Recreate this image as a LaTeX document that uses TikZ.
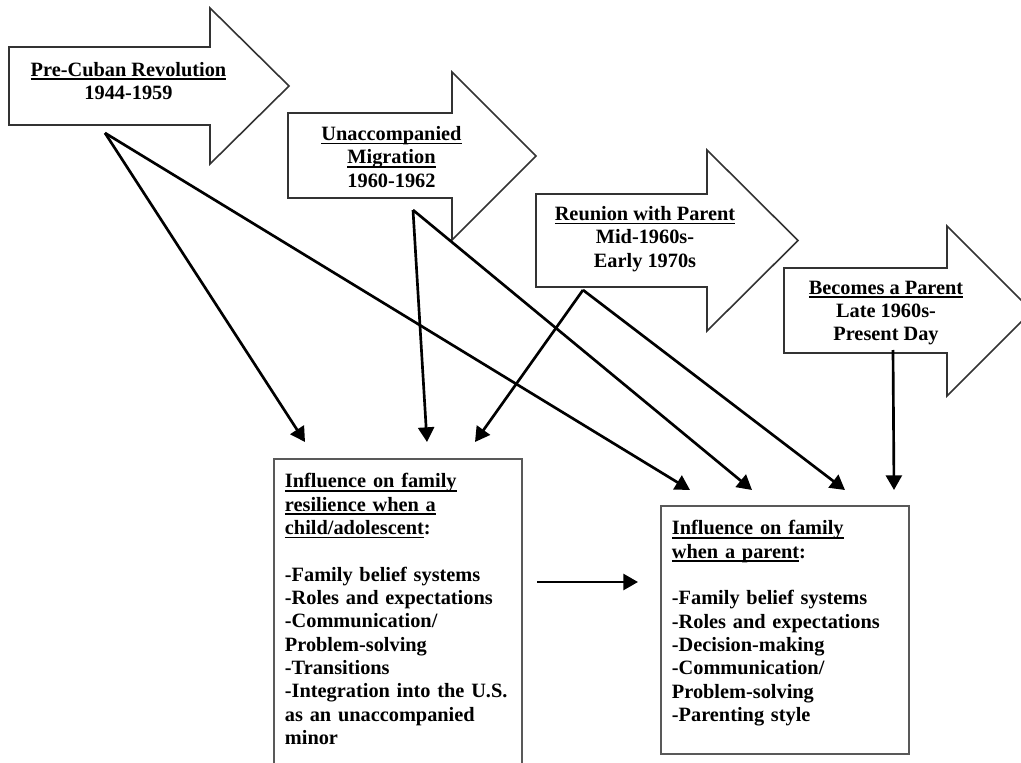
\documentclass[tikz,border=0pt]{standalone}
\usepackage{fontspec}
\usepackage{calc}
\setmainfont{Liberation Serif}
\usetikzlibrary{arrows.meta,positioning,calc}

\newcommand{\hd}[1]{\leavevmode\rlap{\rule[-2.7pt]{\widthof{#1}}{1.1pt}}#1}

\begin{document}
\begin{tikzpicture}[x=0.75pt,y=-0.75pt,>={Triangle[length=11pt,width=12pt]},
  era/.style={draw=black!80,line width=1.2pt,fill=white},
  lbl/.style={font=\fontsize{15.25}{17.5}\selectfont\bfseries,align=center,inner sep=0pt},
  infobox/.style={draw=black!65,line width=1.4pt,anchor=north west,align=left,
    text width=169.5pt,inner xsep=8.25pt,inner ysep=11pt,
    font=\fontsize{15.25}{17.5}\selectfont\bfseries},
  link/.style={->,line width=2pt}]
\useasboundingbox (0,0) rectangle (1021,763);

% the four periods
\draw[era] (9,47)--(210,47)--(210,8)--(289,86)--(210,164)--(210,125)--(9,125)--cycle;
\node[lbl] (precuban) at (128.5,81) {\hd{Pre-Cuban Revolution}\\1944-1959};
\draw[era] (288,113)--(452,113)--(452,72)--(536,156)--(452,240)--(452,198)--(288,198)--cycle;
\node[lbl] (migration) at (391.5,157) {\hd{Unaccompanied}\\\hd{Migration}\\1960-1962};
\draw[era] (536,194)--(707,194)--(707,150)--(798,240.5)--(707,331)--(707,287)--(536,287)--cycle;
\node[lbl] (reunion) at (645,239) {\hd{Reunion with Parent}\\Mid-1960s-\\Early 1970s};
\draw[era] (784,268)--(947,268)--(947,226)--(1032,311)--(947,396)--(947,353)--(784,353)--cycle;
\node[lbl] (becomes) at (886,313) {\hd{Becomes a Parent}\\Late 1960s-\\Present Day};

% influence boxes
\node[infobox] (childbox) at (273,458) {\hd{Influence on family}\\\hd{resilience when a}\\\hd{child/adolescent}:\\ \mbox{}\\
 -Family belief systems\\-Roles and expectations\\-Communication/\\Problem-solving\\-Transitions\\
 \mbox{-Integration into the U.S.}\\as an unaccompanied\\minor\\ \mbox{}};
\node[infobox] (parentbox) at (660,505) {\hd{Influence on family}\\\hd{when a parent}:\\ \mbox{}\\
 -Family belief systems\\-Roles and expectations\\-Decision-making\\-Communication/\\Problem-solving\\
 -Parenting style\\[-4pt]\mbox{}};

\coordinate (s1) at (105,133);
\coordinate (s2) at (413,210);
\coordinate (s3) at (583,290);
\coordinate (s4) at (893,350);
\coordinate (c1) at ($(childbox.north west)+(32,-16)$);
\coordinate (c2) at ($(childbox.north west)+(154,-16)$);
\coordinate (c3) at ($(childbox.north west)+(202,-16)$);
\coordinate (p1) at ($(parentbox.north west)+(30,-15)$);
\coordinate (p2) at ($(parentbox.north west)+(92,-15)$);
\coordinate (p3) at ($(parentbox.north west)+(185,-15)$);
\coordinate (p4) at ($(parentbox.north west)+(234,-15)$);
\coordinate (h1) at (537,582);
\coordinate (h2) at (638,582);

\draw[link] (s1)--(c1);
\draw[link] (s1)--(p1);
\draw[link] (s2)--(c2);
\draw[link] (s2)--(p2);
\draw[link] (s3)--(c3);
\draw[link] (s3)--(p3);
\draw[link] (s4)--(p4);
\draw[link] (h1)--(h2);
\end{tikzpicture}
\end{document}
